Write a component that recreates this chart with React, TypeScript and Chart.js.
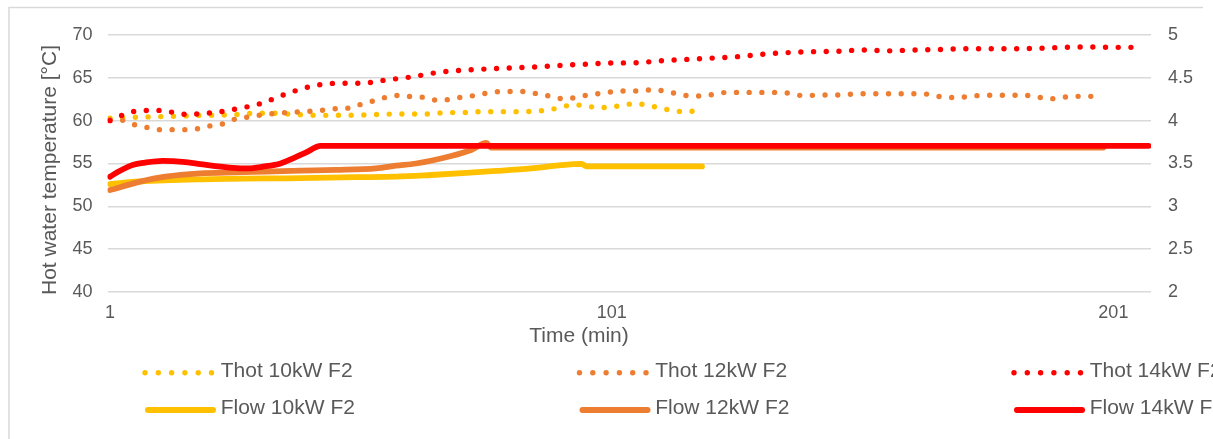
import React, { useEffect, useRef } from "react";
import { Chart, registerables } from "chart.js";
Chart.register(...registerables);

const W = 1213;
const H = 439;

const X_TICKS = [1, 101, 201];
const LEFT_RANGE = [40, 70];
const RIGHT_RANGE = [2, 5];

const SERIES_LABELS = [
  "Thot 10kW F2",
  "Thot 12kW F2",
  "Thot 14kW F2",
  "Flow 10kW F2",
  "Flow 12kW F2",
  "Flow 14kW F2",
];
const SERIES_COLORS = ["#FFC000", "#ED7D31", "#FF0000", "#FFC000", "#ED7D31", "#FF0000"];

// Thot 10kW F2 (left axis, °C)
const THOT10_TIME = [1, 6, 11, 16, 19, 24, 27, 29.5, 34.5, 37, 40, 42, 50, 55, 58, 65, 67.5, 72.5, 75, 83, 85.5, 88, 90.5, 93, 95.5, 98, 100.5, 103, 105.5, 108, 110.5, 113, 115.5, 118];
const THOT10 = [60.28, 60.4, 60.47, 60.55, 60.62, 60.66, 60.74, 60.86, 60.86, 60.74, 60.66, 60.62, 60.64, 60.74, 60.78, 60.78, 60.93, 60.95, 61.05, 61.05, 61.1, 61.22, 61.5, 61.82, 61.82, 61.5, 61.58, 61.77, 61.98, 61.83, 61.48, 61.2, 61.05, 61.16];

// Thot 12kW F2 (left axis, °C)
const THOT12_TIME = [1, 4, 6, 9, 11, 16, 19, 21, 24, 26, 29, 31, 36, 41, 44, 46, 49, 51, 54, 56, 59, 61, 64, 66, 69, 71, 74, 76, 79, 84, 86.5, 89, 91.5, 94, 96.5, 99, 101.5, 104, 106.5, 109, 111.5, 114, 116.5, 119, 121.5, 124, 134.5, 137, 139.5, 142, 147, 150, 162.5, 165, 167.5, 170, 172.5, 175, 183, 185.5, 188, 190.5, 193, 199];
const THOT12 = [60.1, 60.0, 59.5, 59.15, 58.95, 58.95, 59.1, 59.4, 59.7, 60.2, 60.45, 60.66, 60.93, 61.1, 61.25, 61.4, 61.5, 61.9, 62.38, 62.73, 62.96, 62.8, 62.7, 62.4, 62.5, 62.73, 62.96, 63.2, 63.4, 63.4, 63.08, 62.84, 62.53, 62.73, 63.03, 63.2, 63.4, 63.47, 63.47, 63.6, 63.47, 63.15, 62.9, 62.88, 63.1, 63.3, 63.3, 63.15, 62.88, 63.0, 63.0, 63.15, 63.15, 63.0, 62.7, 62.7, 62.84, 62.96, 62.96, 62.84, 62.53, 62.7, 62.84, 62.84];

// Thot 14kW F2 (left axis, °C)
const THOT14_TIME = [1, 3.5, 6, 11, 16, 21, 26, 31, 36, 41, 46, 51, 56, 61, 66, 71, 76, 81, 86, 91, 96, 101, 106, 111, 116, 121, 126, 131, 136, 141, 146, 151, 156, 161, 166, 171, 176, 181, 186, 191, 196, 201, 206];
const THOT14 = [60.0, 60.66, 61.1, 61.2, 60.74, 60.9, 61.35, 62.0, 63.1, 64.0, 64.36, 64.36, 64.75, 65.1, 65.6, 65.88, 66.03, 66.15, 66.27, 66.45, 66.6, 66.73, 66.77, 67.0, 67.15, 67.3, 67.47, 67.75, 67.94, 68.05, 68.1, 68.25, 68.15, 68.25, 68.3, 68.4, 68.4, 68.4, 68.45, 68.56, 68.6, 68.56, 68.56];

// Flow 10kW F2 (right axis)
const FLOW10_TIME = [1, 7, 19, 39, 50, 58, 65, 72, 78, 85, 90, 95, 96, 119];
const FLOW10 = [3.26, 3.29, 3.315, 3.33, 3.34, 3.346, 3.366, 3.39, 3.413, 3.444, 3.475, 3.495, 3.466, 3.466];

// Flow 12kW F2 (right axis)
const FLOW12_TIME = [1, 7, 12, 19, 26, 32, 39, 46, 54, 58, 62, 69, 73, 76, 77, 199];
const FLOW12 = [3.19, 3.288, 3.346, 3.385, 3.397, 3.405, 3.416, 3.425, 3.444, 3.475, 3.5, 3.588, 3.658, 3.74, 3.687, 3.687];

// Flow 14kW F2 (right axis)
const FLOW14_TIME = [1, 3, 5.5, 8, 11.5, 15.5, 19, 22, 25.5, 28.5, 31.5, 35, 37.5, 40, 43, 208];
const FLOW14 = [3.346, 3.416, 3.483, 3.51, 3.53, 3.52, 3.494, 3.47, 3.45, 3.444, 3.463, 3.5, 3.56, 3.627, 3.705, 3.705];

const TEXT_COLOR = "#595959";
const GRID_COLOR = "#d9d9d9";
const FONT = '"Liberation Sans", Arial, sans-serif';

const toPoints = (t: number[], v: number[]) => t.map((x, i) => ({ x, y: v[i] }));

const decorPlugin = {
  id: "decor",
  afterDraw(chart: any) {
    const ctx = chart.ctx as CanvasRenderingContext2D;
    ctx.save();
    // frame
    ctx.strokeStyle = GRID_COLOR;
    ctx.lineWidth = 1.5;
    ctx.beginPath();
    ctx.moveTo(9, H);
    ctx.lineTo(9, 7.5);
    ctx.lineTo(1203, 7.5);
    ctx.stroke();

    // axis titles
    ctx.fillStyle = TEXT_COLOR;
    ctx.font = `21px ${FONT}`;
    ctx.textAlign = "center";
    ctx.textBaseline = "middle";
    ctx.fillText("Time (min)", 579, 336);
    ctx.save();
    ctx.translate(50, 170);
    ctx.rotate(-Math.PI / 2);
    ctx.fillText("Hot water temperature [°C]", 0, 0);
    ctx.restore();

    // legend
    const cols = [145, 579.5, 1014];
    const rows = [372.7, 410];
    chart.data.datasets.forEach((ds: any, i: number) => {
      const row = i < 3 ? 0 : 1;
      const x0 = cols[i % 3];
      const y = rows[row];
      ctx.save();
      ctx.strokeStyle = ds.borderColor;
      ctx.lineCap = "round";
      ctx.beginPath();
      if (row === 0) {
        ctx.lineWidth = 5.4;
        ctx.setLineDash([0, 13.3]);
        ctx.moveTo(x0, y);
        ctx.lineTo(x0 + 67.5, y);
      } else {
        ctx.lineWidth = 6;
        ctx.moveTo(x0 + 3, y);
        ctx.lineTo(x0 + 68, y);
      }
      ctx.stroke();
      ctx.restore();
      ctx.fillStyle = TEXT_COLOR;
      ctx.font = `21px ${FONT}`;
      ctx.textAlign = "left";
      ctx.textBaseline = "middle";
      ctx.fillText(ds.label, x0 + 75.7, y - 1.8);
    });
    ctx.restore();
  },
};

export default function App() {
  const ref = useRef<HTMLCanvasElement>(null);

  useEffect(() => {
    const thotTimes = [THOT10_TIME, THOT12_TIME, THOT14_TIME];
    const thotVals = [THOT10, THOT12, THOT14];
    const flowTimes = [FLOW10_TIME, FLOW12_TIME, FLOW14_TIME];
    const flowVals = [FLOW10, FLOW12, FLOW14];

    const datasets: any[] = [];
    for (let i = 0; i < 3; i++) {
      datasets.push({
        label: SERIES_LABELS[i],
        data: toPoints(thotTimes[i], thotVals[i]),
        yAxisID: "y",
        borderColor: SERIES_COLORS[i],
        backgroundColor: SERIES_COLORS[i],
        borderWidth: 5.4,
        borderDash: [0, 12.7],
        borderCapStyle: "round",
        pointRadius: 0,
        cubicInterpolationMode: "monotone",
        fill: false,
        order: 5 - i,
      });
    }
    for (let i = 0; i < 3; i++) {
      datasets.push({
        label: SERIES_LABELS[i + 3],
        data: toPoints(flowTimes[i], flowVals[i]),
        yAxisID: "y1",
        borderColor: SERIES_COLORS[i + 3],
        backgroundColor: SERIES_COLORS[i + 3],
        borderWidth: 5.8,
        borderCapStyle: "round",
        borderJoinStyle: "round",
        pointRadius: 0,
        cubicInterpolationMode: "monotone",
        fill: false,
        order: 2 - i,
      });
    }

    const chart = new Chart(ref.current as HTMLCanvasElement, {
      type: "line",
      data: { datasets },
      plugins: [decorPlugin],
      options: {
        responsive: false,
        maintainAspectRatio: false,
        animation: false,
        devicePixelRatio: 1,
        layout: { padding: { top: 35, left: 0, right: 0, bottom: 0 } },
        plugins: {
          legend: { display: false },
          tooltip: { enabled: false },
        },
        scales: {
          x: {
            type: "linear",
            min: 0.5,
            max: 208.5,
            grid: { display: false },
            border: { display: false },
            afterBuildTicks: (s: any) => {
              s.ticks = X_TICKS.map((v) => ({ value: v }));
            },
            afterFit: (s: any) => {
              s.height = 147;
            },
            ticks: {
              color: TEXT_COLOR,
              font: { size: 18, family: FONT },
              padding: 2,
              maxRotation: 0,
              autoSkip: false,
              callback: (v: any) => String(v),
            },
          },
          y: {
            position: "left",
            min: LEFT_RANGE[0],
            max: LEFT_RANGE[1],
            border: { display: false },
            grid: { color: GRID_COLOR, lineWidth: 1.4, drawTicks: false },
            afterFit: (s: any) => {
              s.width = 107.5;
            },
            ticks: {
              stepSize: 5,
              color: TEXT_COLOR,
              font: { size: 18, family: FONT },
              padding: 15,
              callback: (v: any) => String(v),
            },
          },
          y1: {
            position: "right",
            min: RIGHT_RANGE[0],
            max: RIGHT_RANGE[1],
            border: { display: false },
            grid: { display: false, drawTicks: false },
            afterFit: (s: any) => {
              s.width = W - 1151;
            },
            ticks: {
              stepSize: 0.5,
              color: TEXT_COLOR,
              font: { size: 18, family: FONT },
              padding: 17,
              callback: (v: any) => String(v),
            },
          },
        },
      } as any,
    });
    return () => chart.destroy();
  }, []);

  return (
    <div style={{ position: "fixed", left: 0, top: 0, width: W, height: H, background: "#fff" }}>
      <canvas ref={ref} width={W} height={H} style={{ display: "block", width: W, height: H }} />
    </div>
  );
}
